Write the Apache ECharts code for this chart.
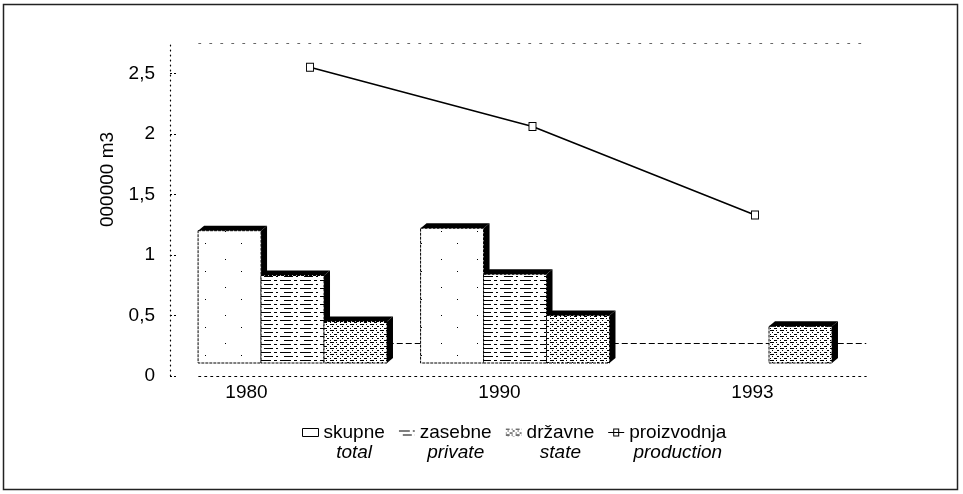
<!DOCTYPE html>
<html>
<head>
<meta charset="utf-8">
<script src="https://cdn.jsdelivr.net/npm/echarts@6/dist/echarts.min.js"></script>
<style>
  html, body { margin: 0; padding: 0; background: #fff; }
  #chart { width: 963px; height: 494px; }
</style>
</head>
<body>
<div id="chart"></div>
<script>
// data (000000 m3)
const years = ['1980', '1990', '1993'];
const totalVals = [1.20, 1.22, null];     // skupne / total
const privateVals = [0.83, 0.84, null];   // zasebne / private
const stateVals = [0.45, 0.50, 0.41];     // državne / state
const productionVals = [2.55, 2.06, 1.33]; // proizvodnja / production
const backLevel = [0.27];                 // faint dashed line behind the bars

const legendNames = ['skupne', 'zasebne', 'državne', 'proizvodnja'];
const legendNamesEn = ['total', 'private', 'state', 'production'];

const font = 'Liberation Sans, Arial, sans-serif';

// small canvas patterns for the hatched bars
function makePattern(w, h, draw) {
  const c = document.createElement('canvas');
  c.width = w;
  c.height = h;
  const ctx = c.getContext('2d');
  ctx.fillStyle = '#fff';
  ctx.fillRect(0, 0, w, h);
  ctx.fillStyle = '#000';
  draw(ctx);
  return { image: c, repeat: 'repeat' };
}
const totalFill = makePattern(36, 28, function (ctx) {
  ctx.fillRect(9, 7, 1, 1);
  ctx.fillRect(25, 19, 1, 1);
});
const privateFill = makePattern(20, 8, function (ctx) {
  ctx.fillRect(0, 0, 11, 1);
  ctx.fillRect(14, 0, 3, 1);
  ctx.fillRect(4, 4, 9, 1);
  ctx.fillRect(16, 4, 2, 1);
});
const stateFill = makePattern(10, 6, function (ctx) {
  ctx.fillRect(0, 0, 4, 1);
  ctx.fillRect(6, 0, 1, 1);
  ctx.fillRect(2, 2, 1, 1);
  ctx.fillRect(7, 2, 2, 1);
  ctx.fillRect(0, 4, 1, 1);
  ctx.fillRect(4, 4, 3, 1);
});

// 3d looking bar: front face + black top and right side
function barRenderer(slot, fill) {
  return function (params, api) {
    const v = api.value(1);
    if (isNaN(v)) return null;
    const idx = api.value(0);
    const top = api.coord([idx, v]);
    const base = api.coord([idx, 0]);
    const band = api.size([1, 0])[0];
    const w = band * 0.283;
    const x0 = top[0] - band * 0.503 + slot * w;
    const x1 = x0 + w;
    const yT = top[1];
    const yB = base[1] - 13;
    const dx = 6, dy = 5;
    return {
      type: 'group',
      children: [
        {
          type: 'polygon',
          shape: { points: [[x1, yT], [x1 + dx, yT - dy], [x1 + dx, yB - dy], [x1, yB]] },
          style: { fill: '#000' }
        },
        {
          type: 'polygon',
          shape: { points: [[x0, yT], [x0 + dx, yT - dy], [x1 + dx, yT - dy], [x1, yT]] },
          style: { fill: '#000' }
        },
        {
          type: 'rect',
          shape: { x: x0, y: yT, width: w, height: yB - yT },
          style: { fill: fill, stroke: '#000', lineWidth: 1, lineDash: [3, 1] }
        }
      ]
    };
  };
}

function toPairs(vals) {
  return vals.map(function (v, i) { return [i, v]; });
}

// legend icons: shape sits at the first text line, extra move points stretch box to 40px
const rectIcon = 'path://M0,6L16,6L16,14L0,14Z M0,0 M0,40';
const lineIcon = 'path://M0,9.5L5,9.5L5,6L11,6L11,9.5L16,9.5L16,10.5L11,10.5L11,14L5,14L5,10.5L0,10.5Z ' +
  'M6,7L6,13L10,13L10,7Z M6,9.5L10,9.5L10,10.5L6,10.5Z M0,0 M0,40';

const chart = echarts.init(document.getElementById('chart'));
chart.setOption({
  animation: false,
  backgroundColor: '#fff',
  textStyle: { fontFamily: font, color: '#000' },
  graphic: [
    {
      type: 'rect',
      shape: { x: 3.5, y: 4.5, width: 954, height: 485 },
      style: { fill: 'none', stroke: '#222', lineWidth: 1.5 },
      silent: true
    }
  ],
  grid: [
    { left: 198.75, right: 96.75, top: 43, bottom: 118 },
    { left: 120, right: 84, top: 43, bottom: 118 }
  ],
  legend: {
    left: 297,
    top: 417,
    itemWidth: 16,
    itemHeight: 40,
    itemGap: 14,
    selectedMode: false,
    data: [
      { name: legendNames[0], icon: rectIcon, itemStyle: { color: '#fff', borderColor: '#000', borderWidth: 1 } },
      { name: legendNames[1], icon: rectIcon, itemStyle: { color: privateFill, borderWidth: 0 } },
      { name: legendNames[2], icon: rectIcon, itemStyle: { color: stateFill, borderWidth: 0 } },
      { name: legendNames[3], icon: lineIcon, itemStyle: { color: '#000', borderWidth: 0 } }
    ],
    formatter: function (name) {
      const i = legendNames.indexOf(name);
      return '{a|' + name + '}\n{b|' + legendNamesEn[i] + '}';
    },
    textStyle: {
      fontFamily: font,
      rich: {
        a: { fontSize: 19, lineHeight: 20, align: 'center', color: '#000', fontFamily: font },
        b: { fontSize: 19, lineHeight: 20, align: 'center', fontStyle: 'italic', color: '#000', fontFamily: font }
      }
    }
  },
  xAxis: [
    {
      gridIndex: 0,
      type: 'category',
      data: years,
      axisLabel: { show: false },
      axisTick: { show: false },
      axisLine: { lineStyle: { color: '#000', type: [2, 4], width: 1 } }
    },
    {
      gridIndex: 1,
      type: 'category',
      data: years,
      axisLine: { show: false },
      axisTick: { show: false },
      axisLabel: { fontSize: 19, color: '#000', margin: 7, fontFamily: font }
    },
    {
      gridIndex: 0,
      type: 'category',
      position: 'top',
      data: years,
      axisLabel: { show: false },
      axisTick: { show: false },
      axisLine: { lineStyle: { color: '#666', type: [2, 9], width: 1 } }
    }
  ],
  yAxis: [
    {
      gridIndex: 0,
      type: 'value',
      min: 0,
      max: 2.75,
      interval: 0.5,
      offset: 28.75,
      name: '000000 m3',
      nameLocation: 'middle',
      nameRotate: 90,
      nameGap: 31,
      nameTextStyle: { fontSize: 19, color: '#000', fontFamily: font, padding: [0, 0, 0, 60] },
      axisLine: { show: true, lineStyle: { color: '#000', type: [1, 4], width: 1.2 } },
      axisTick: { show: true, inside: true, length: 6, lineStyle: { color: '#000', type: [2, 2] } },
      splitLine: { show: false },
      axisLabel: {
        fontSize: 19,
        color: '#000',
        margin: 15,
        showMaxLabel: false,
        fontFamily: font,
        formatter: function (v) { return String(v).replace('.', ','); }
      }
    },
    { gridIndex: 1, type: 'value', min: 0, max: 1, show: false }
  ],
  series: [
    {
      name: legendNames[0],
      type: 'custom',
      xAxisIndex: 0,
      yAxisIndex: 0,
      renderItem: barRenderer(0, totalFill),
      encode: { x: 0, y: 1 },
      data: toPairs(totalVals),
      markLine: {
        silent: true,
        z: 1,
        symbol: 'none',
        label: { show: false },
        lineStyle: { color: '#000', type: [6, 3], width: 1 },
        data: backLevel.map(function (v) { return { yAxis: v }; })
      }
    },
    {
      name: legendNames[1],
      type: 'custom',
      xAxisIndex: 0,
      yAxisIndex: 0,
      renderItem: barRenderer(1, privateFill),
      encode: { x: 0, y: 1 },
      data: toPairs(privateVals)
    },
    {
      name: legendNames[2],
      type: 'custom',
      xAxisIndex: 0,
      yAxisIndex: 0,
      renderItem: barRenderer(2, stateFill),
      encode: { x: 0, y: 1 },
      data: toPairs(stateVals)
    },
    {
      name: legendNames[3],
      type: 'line',
      xAxisIndex: 0,
      yAxisIndex: 0,
      z: 4,
      data: productionVals,
      symbol: 'rect',
      symbolSize: [7, 8],
      itemStyle: { color: '#fff', borderColor: '#000', borderWidth: 1 },
      lineStyle: { color: '#000', width: 1.6 }
    }
  ]
});
</script>
</body>
</html>
